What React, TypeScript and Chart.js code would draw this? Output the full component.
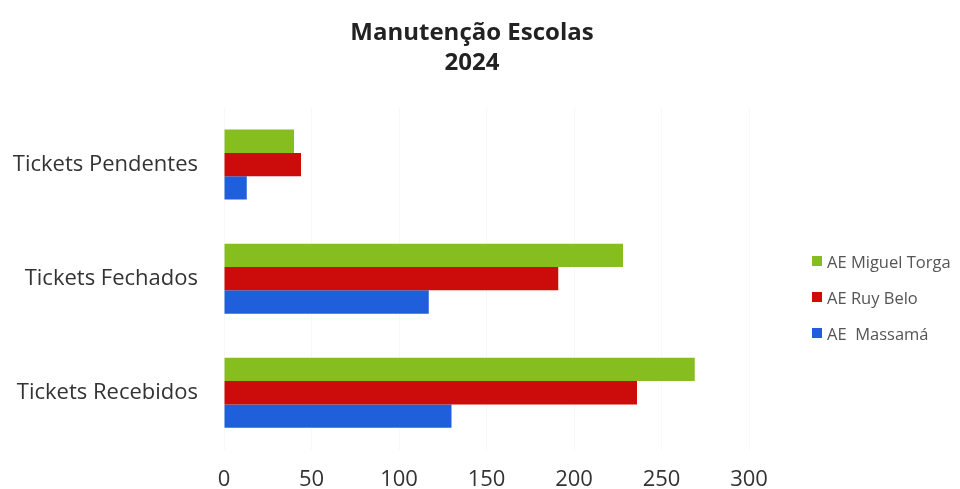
import React, { useEffect, useRef } from "react";
import { Chart, registerables } from "chart.js";

Chart.register(...registerables);

const categories = ["Tickets Pendentes", "Tickets Fechados", "Tickets Recebidos"];
const seriesNames = ["AE Miguel Torga", "AE Ruy Belo", "AE  Massamá"];
const miguelTorga = [40, 228, 269];
const ruyBelo = [44, 191, 236];
const massama = [13, 117, 130];
const xTicks = [0, 50, 100, 150, 200, 250, 300];
const titleLines = ["Manutenção Escolas", "2024"];
const colors = ["#86BD1F", "#CC0B0B", "#1F5FDB"];

const FONT = "'Open Sans', Lato, sans-serif";

export default function App() {
  const canvasRef = useRef<HTMLCanvasElement | null>(null);

  useEffect(() => {
    if (!canvasRef.current) return;
    const chart = new Chart(canvasRef.current, {
      type: "bar",
      data: {
        labels: categories,
        datasets: [
          { label: seriesNames[0], data: miguelTorga, backgroundColor: colors[0], yAxisID: "y" },
          { label: seriesNames[1], data: ruyBelo, backgroundColor: colors[1], yAxisID: "y" },
          { label: seriesNames[2], data: massama, backgroundColor: colors[2], yAxisID: "y" },
        ],
      },
      options: {
        indexAxis: "y",
        animation: false,
        responsive: true,
        maintainAspectRatio: false,
        layout: { padding: { left: 0, right: 16, top: 0, bottom: 0 } },
        datasets: {
          bar: { barPercentage: 1, categoryPercentage: 0.614, borderWidth: 0 },
        },
        plugins: {
          legend: { display: false },
          tooltip: { enabled: false },
          title: {
            display: true,
            text: titleLines,
            color: "#222",
            font: { family: FONT, size: 24, weight: "bold", lineHeight: 1.22 },
            padding: { top: 19, bottom: 30 },
          },
        },
        scales: {
          x: {
            min: 0,
            max: 300,
            afterBuildTicks: (scale: any) => {
              scale.ticks = xTicks.map((v) => ({ value: v }));
            },
            afterFit: (scale: any) => {
              scale.height = 39;
            },
            grid: { color: "#f8f8f8", drawTicks: false },
            border: { display: false },
            ticks: {
              padding: 17,
              color: "#333",
              font: { family: FONT, size: 22 },
            },
          },
          y: {
            position: "left",
            afterFit: (scale: any) => {
              scale.width = 224;
            },
            grid: { display: false, drawTicks: false },
            border: { display: false },
            ticks: {
              padding: 26,
              color: "#333",
              font: { family: FONT, size: 22 },
            },
          },
          legendSpace: {
            type: "category",
            position: "right",
            afterFit: (scale: any) => {
              scale.width = 195;
            },
            grid: { display: false, drawTicks: false },
            border: { display: false },
            ticks: { display: false },
          },
        },
      },
    });
    return () => chart.destroy();
  }, []);

  return (
    <div style={{ position: "absolute", left: 0, top: 0, width: 960, height: 489, background: "#fff" }}>
      <canvas ref={canvasRef} />
      <div
        style={{
          position: "absolute",
          left: 812,
          top: 243,
          fontFamily: FONT,
          fontSize: 16.5,
          color: "#555",
        }}
      >
        {seriesNames.map((name, i) => (
          <div key={name} style={{ display: "flex", alignItems: "center", height: 36, whiteSpace: "pre" }}>
            <span
              style={{ display: "inline-block", width: 10, height: 10, background: colors[i], marginRight: 5 }}
            />
            <span>{name}</span>
          </div>
        ))}
      </div>
    </div>
  );
}
